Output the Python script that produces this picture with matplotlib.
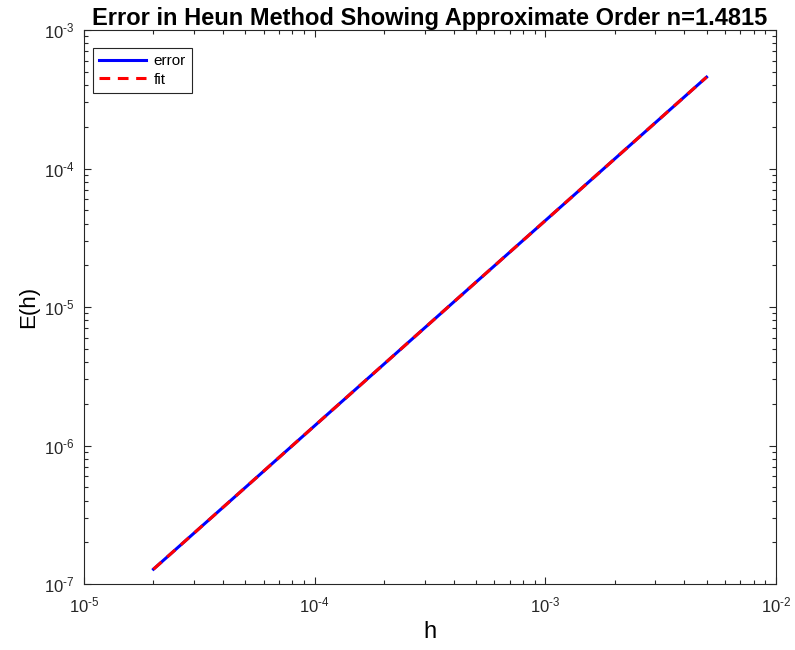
import numpy as np
import matplotlib
matplotlib.use("Agg")
import matplotlib.pyplot as plt
from matplotlib.ticker import LogLocator, NullFormatter, FuncFormatter

plt.rcParams.update({
    "font.family": ["Liberation Sans", "DejaVu Sans"],
    "mathtext.fontset": "custom",
    "mathtext.rm": "Liberation Sans",
    "mathtext.it": "Liberation Sans:italic",
    "mathtext.bf": "Liberation Sans:bold",
    "axes.unicode_minus": False,
    "axes.linewidth": 0.8,
    "axes.edgecolor": "#262626",
    "xtick.color": "#262626",
    "ytick.color": "#262626",
})

h = [2e-5, 5e-5, 1e-4, 2e-4, 5e-4, 1e-3, 2e-3, 5e-3]
err = [1.28e-7, 4.97e-7, 1.39e-6, 3.88e-6, 1.51e-5, 4.21e-5, 1.175e-4, 4.57e-4]
fit = [1.28e-7, 4.97e-7, 1.39e-6, 3.88e-6, 1.51e-5, 4.21e-5, 1.175e-4, 4.57e-4]
order = 1.4815


def pow10(v, pos):
    # MATLAB-style label with a short hyphen in the exponent
    k = int(round(np.log10(v)))
    if k < 0:
        return r"$10^{\text{-}%d}$" % (-k)
    return r"$10^{%d}$" % k


fig = plt.figure(figsize=(7.95, 6.5), dpi=100)
ax = fig.add_axes([0.1057, 0.1015, 0.8704, 0.8523])

ax.loglog(h, err, color="#0000ff", lw=2.2, label="error")
ax.loglog(h, fit, color="#ff0000", lw=2.2, ls=(0, (3.5, 2.5)), label="fit")

ax.set_xlim(1e-5, 1e-2)
ax.set_ylim(1e-7, 1e-3)
ax.xaxis.set_major_locator(LogLocator(base=10, numticks=10))
ax.yaxis.set_major_locator(LogLocator(base=10, numticks=10))
ax.xaxis.set_minor_locator(LogLocator(base=10, subs=np.arange(2, 10), numticks=20))
ax.yaxis.set_minor_locator(LogLocator(base=10, subs=np.arange(2, 10), numticks=20))
ax.xaxis.set_major_formatter(FuncFormatter(pow10))
ax.yaxis.set_major_formatter(FuncFormatter(pow10))
ax.xaxis.set_minor_formatter(NullFormatter())
ax.yaxis.set_minor_formatter(NullFormatter())
ax.tick_params(which="both", direction="in", top=True, right=True, labelsize=12)
ax.tick_params(which="major", length=5, width=0.8)
ax.tick_params(which="minor", length=3, width=0.8)
ax.tick_params(axis="x", pad=8)
ax.tick_params(axis="y", pad=7)

ax.set_xlabel("h", fontsize=17, labelpad=4)
ax.set_ylabel("E(h)", fontsize=16, labelpad=3)
ax.set_title(f"Error in Heun Method Showing Approximate Order n={order}",
             fontsize=17, fontweight="bold", pad=3)

leg = ax.legend(loc="upper left", bbox_to_anchor=(0.013, 0.9675), borderaxespad=0,
                fontsize=11, fancybox=False, framealpha=1, edgecolor="#262626",
                handlelength=3.1, handletextpad=0.45, labelspacing=0.3)
leg.get_frame().set_linewidth(0.8)

fig.savefig("out.png", dpi=100, facecolor="white")
